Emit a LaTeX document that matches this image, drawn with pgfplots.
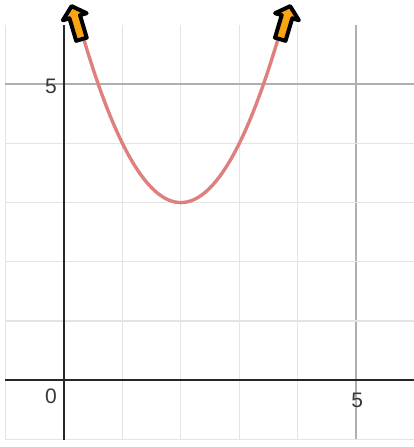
\documentclass[border=0pt]{standalone}
\usepackage{fontspec}
\setmainfont{Liberation Sans}
\usepackage{pgfplots}
\pgfplotsset{compat=1.18}
\definecolor{curve}{RGB}{222,128,126}
\definecolor{arrowfill}{RGB}{250,165,20}
\definecolor{minorgrid}{RGB}{228,228,228}
\definecolor{majorgrid}{RGB}{175,175,175}
\definecolor{labelgray}{RGB}{55,55,55}
\begin{document}
\begin{tikzpicture}
\begin{axis}[
  scale only axis,
  width=204.5pt, height=207.5pt,
  xmin=-1.01, xmax=5.99,
  ymin=-1.01, ymax=6.0,
  axis lines=middle,
  axis line style={-, black!85, line width=1.1pt},
  xtick={5}, ytick={5},
  minor xtick={-1,1,2,3,4},
  minor ytick={-1,1,2,3,4},
  xticklabels={}, yticklabels={},
  major tick length=0pt, minor tick length=0pt,
  grid=both,
  major grid style={majorgrid, line width=1pt},
  minor grid style={minorgrid, line width=0.6pt},
  clip=false,
]
\coordinate (sw) at (rel axis cs:0,0);
\coordinate (ne) at (rel axis cs:1,1);

% y = (x-2)^2 + 3
\addplot[curve, line width=1.7pt, smooth] coordinates {
(0.33,5.789)(0.4,5.56)(0.5,5.25)(0.6,4.96)(0.7,4.69)(0.8,4.44)(0.9,4.21)
(1.0,4.0)(1.1,3.81)(1.2,3.64)(1.3,3.49)(1.4,3.36)(1.5,3.25)(1.6,3.16)
(1.7,3.09)(1.8,3.04)(1.9,3.01)(2.0,3.0)(2.1,3.01)(2.2,3.04)(2.3,3.09)
(2.4,3.16)(2.5,3.25)(2.6,3.36)(2.7,3.49)(2.8,3.64)(2.9,3.81)(3.0,4.0)
(3.1,4.21)(3.2,4.44)(3.3,4.69)(3.4,4.96)(3.5,5.25)(3.6,5.56)(3.67,5.789)};

% off-screen arrows
\addplot[draw=black, fill=arrowfill, line width=2pt, line join=round] coordinates {
(0.2082,5.7323)(0.0936,6.1125)(-0.0196,6.0793)(0.1296,6.3186)(0.3872,6.1987)(0.2740,6.1655)(0.3887,5.7852)} -- cycle;
\addplot[draw=black, fill=arrowfill, line width=2pt, line join=round] coordinates {
(3.7918,5.7323)(3.9064,6.1125)(4.0196,6.0793)(3.8704,6.3186)(3.6128,6.1987)(3.7260,6.1655)(3.6113,5.7852)} -- cycle;

\node[labelgray, font=\fontsize{10.5}{12}\selectfont] at (axis cs:-0.223,-0.27) {0};
\node[labelgray, font=\fontsize{10.5}{12}\selectfont] at (axis cs:5.017,-0.338) {5};
\node[labelgray, font=\fontsize{10.5}{12}\selectfont] at (axis cs:-0.223,4.966) {5};
\end{axis}
\pgfresetboundingbox
\path[use as bounding box] ([shift={(-2.5pt,-3.5pt)}]sw) rectangle ([shift={(0pt,12.5pt)}]ne);
\end{tikzpicture}
\end{document}
